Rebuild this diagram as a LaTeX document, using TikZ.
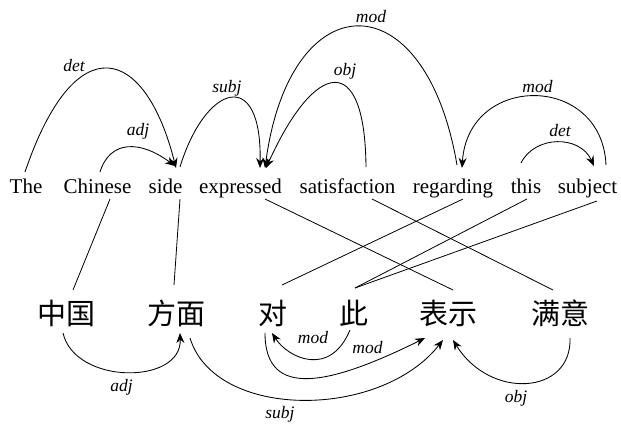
\documentclass[tikz,border=0pt]{standalone}
\usepackage{fontspec}
\setmainfont{Liberation Serif}
\newfontfamily\cjkfont{Noto Sans CJK SC}
\usetikzlibrary{arrows.meta}
\begin{document}
\begin{tikzpicture}[x=1pt,y=-1pt,
  en/.style={anchor=base,inner sep=0pt,font=\fontsize{21}{25}\selectfont},
  zh/.style={anchor=base,inner sep=0pt,font=\cjkfont\fontsize{29}{32}\selectfont},
  lab/.style={anchor=base,inner sep=0pt,font=\fontsize{17.5}{20}\selectfont\itshape},
  dep/.style={line width=0.85pt,-{Stealth[length=10pt,width=8pt]}},
  aln/.style={line width=0.8pt}]
\useasboundingbox (0,0) rectangle (621,423);
% English words
\node[en] (The) at (26,193) {The};
\node[en] (Chinese) at (97.5,193) {Chinese};
\node[en] (side) at (165.5,193) {side};
\node[en] (expressed) at (240.5,193) {expressed};
\node[en] (satisfaction) at (347.5,193) {satisfaction};
\node[en] (regarding) at (453,193) {regarding};
\node[en] (this) at (526,193) {this};
\node[en] (subject) at (587.5,193) {subject};
% Chinese words
\node[zh] (zhongguo) at (66.5,324) {中国};
\node[zh] (fangmian) at (176.5,324) {方面};
\node[zh] (dui) at (273,324) {对};
\node[zh] (ci) at (353.5,324) {此};
\node[zh] (biaoshi) at (448,324) {表示};
\node[zh] (manyi) at (560,324) {满意};
% top arcs
\draw[dep] ([shift={(-1,-21)}]The.base) .. controls (75,25) and (145,45) .. ([shift={(10.5,-25)}]side.base);
\draw[dep] ([shift={(2.5,-21)}]Chinese.base) .. controls (110,140) and (140,140) .. ([shift={(9.5,-27)}]side.base);
\draw[dep] ([shift={(14.5,-26)}]side.base) .. controls (205,85) and (262,65) .. ([shift={(19.5,-25)}]expressed.base);
\draw[dep] ([shift={(4,-28)}]regarding.base) .. controls (425,-22) and (290,-18) .. ([shift={(24.5,-25)}]expressed.base);
\draw[dep] ([shift={(18.5,-26)}]satisfaction.base) .. controls (365,50) and (315,60) .. ([shift={(25.5,-25)}]expressed.base);
\draw[dep] ([shift={(18.5,-28)}]subject.base) .. controls (602,73) and (468,73) .. ([shift={(9,-25)}]regarding.base);
\draw[dep] ([shift={(-5,-30)}]this.base) .. controls (535,135) and (580,135) .. ([shift={(6.5,-27)}]subject.base);
% top labels
\node[lab] (l1) at (74,71) {det};
\node[lab] (l2) at (138,135) {adj};
\node[lab] (l3) at (227,92) {subj};
\node[lab] (l4) at (371,22) {mod};
\node[lab] (l5) at (345,75) {obj};
\node[lab] (l6) at (537.5,92) {mod};
\node[lab] (l7) at (560,136) {det};
% alignment lines
\draw[aln] ([shift={(12.5,6)}]Chinese.base) -- ([shift={(6.5,-34)}]zhongguo.base);
\draw[aln] ([shift={(14.5,6)}]side.base) -- ([shift={(-2.5,-39)}]fangmian.base);
\draw[aln] ([shift={(24.5,6)}]expressed.base) -- ([shift={(5,-34)}]biaoshi.base);
\draw[aln] ([shift={(24.5,6)}]satisfaction.base) -- ([shift={(-7,-34)}]manyi.base);
\draw[aln] ([shift={(10,6)}]regarding.base) -- ([shift={(9,-39)}]dui.base);
\draw[aln] ([shift={(1,6)}]this.base) -- ([shift={(1.5,-36)}]ci.base);
\draw[aln] ([shift={(9.5,8)}]subject.base) -- ([shift={(1.5,-36)}]ci.base);
% bottom arcs
\draw[dep] ([shift={(-3.5,9)}]zhongguo.base) .. controls (75,385) and (182,385) .. ([shift={(3.5,9)}]fangmian.base);
\draw[dep] ([shift={(13.5,14)}]fangmian.base) .. controls (215,420) and (380,420) .. ([shift={(-5,16)}]biaoshi.base);
\draw[dep] ([shift={(-3.5,6)}]ci.base) .. controls (330,378) and (288,358) .. ([shift={(-1,9)}]dui.base);
\draw[dep] ([shift={(-8,9)}]dui.base) .. controls (265,400) and (330,385) .. ([shift={(-23,14)}]biaoshi.base);
\draw[dep] ([shift={(10,14)}]manyi.base) .. controls (572,395) and (490,400) .. ([shift={(5,16)}]biaoshi.base);
% bottom labels
\node[lab] (b1) at (121.5,391) {adj};
\node[lab] (b2) at (280,418) {subj};
\node[lab] (b3) at (313,343) {mod};
\node[lab] (b4) at (367.5,353) {mod};
\node[lab] (b5) at (516,402) {obj};
\end{tikzpicture}
\end{document}
